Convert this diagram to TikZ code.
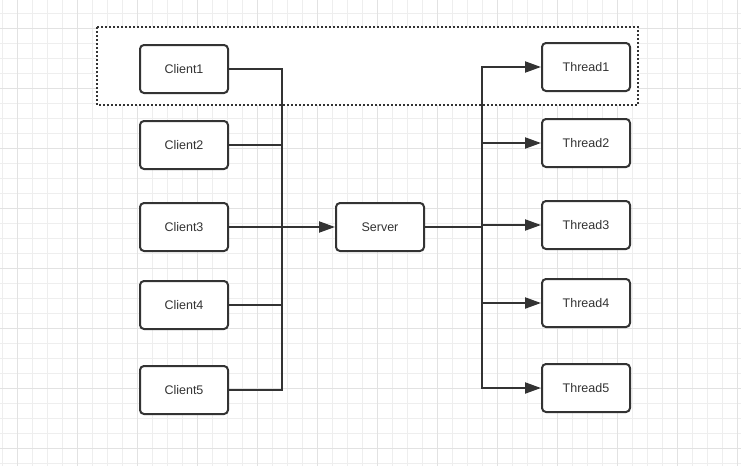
\documentclass[tikz,border=0pt]{standalone}
\usepackage{fontspec}
\setmainfont{Liberation Sans}
\usepackage{tikz}
\usetikzlibrary{arrows.meta,shapes}
\definecolor{ink}{HTML}{333333}
\definecolor{gridminor}{HTML}{EEEEEE}
\definecolor{gridmajor}{HTML}{E2E2E2}
\tikzstyle{box}=[rectangle, draw=ink, fill=white
,line width=2pt
,rounded corners=4pt
,minimum width=88pt
,minimum height=48pt
,text=ink, font=\fontsize{12.5}{15}\selectfont
]
\tikzstyle{edge} = [draw=ink, line width=2pt, -]
\tikzstyle{arrowedge} = [edge, -{Triangle[length=16pt,width=11pt]}]
\tikzstyle{frame} = [draw=ink, fill=white, line width=2pt, dotted]

\begin{document}
\begin{tikzpicture}[x=1pt,y=-1pt]
    \useasboundingbox (0,0) rectangle (741,466);
    % Background grid
    \foreach \x in {2.5,17.5,...,737.5}
        \draw[gridminor, line width=1pt] (\x,0) -- (\x,466);
    \foreach \y in {13.5,28.5,...,463.5}
        \draw[gridminor, line width=1pt] (0,\y) -- (741,\y);
    \foreach \x in {17.5,77.5,...,737.5}
        \draw[gridmajor, line width=1pt] (\x,0) -- (\x,466);
    \foreach \y in {28.5,88.5,...,448.5}
        \draw[gridmajor, line width=1pt] (0,\y) -- (741,\y);

    % Dotted frame round the first row
    \draw[frame] (97,27) rectangle (638,105);

    % First we draw the boxes
    \foreach \pos/\name/\text in {{(184,69)/C1/Client1}, {(184,145)/C2/Client2}, {(184,227)/C3/Client3}, {(184,305)/C4/Client4}, {(184,390)/C5/Client5}}
        \node[box] (\name) at \pos {\text};
    \node[box] (S) at (380,227) {Server};
    \foreach \pos/\name/\text in {{(586,67)/T1/Thread1}, {(586,143)/T2/Thread2}, {(586,225)/T3/Thread3}, {(586,303)/T4/Thread4}, {(586,388)/T5/Thread5}}
        \node[box] (\name) at \pos {\text};

    % Junctions
    \coordinate (cj) at (282,227);
    \coordinate (sj) at (482,227);

    % Connect clients to the server
    \foreach \source in {C1, C2, C4, C5}
        \path[edge] (\source.east) -| (cj);
    \path[arrowedge] (C3.east) -- (S.west);

    % Connect the server to the threads
    \path[edge] (S.east) -- (sj);
    \foreach \dest in {T1, T2, T3, T4, T5}
        \path[arrowedge] (sj) |- (\dest.west);
\end{tikzpicture}
\end{document}
